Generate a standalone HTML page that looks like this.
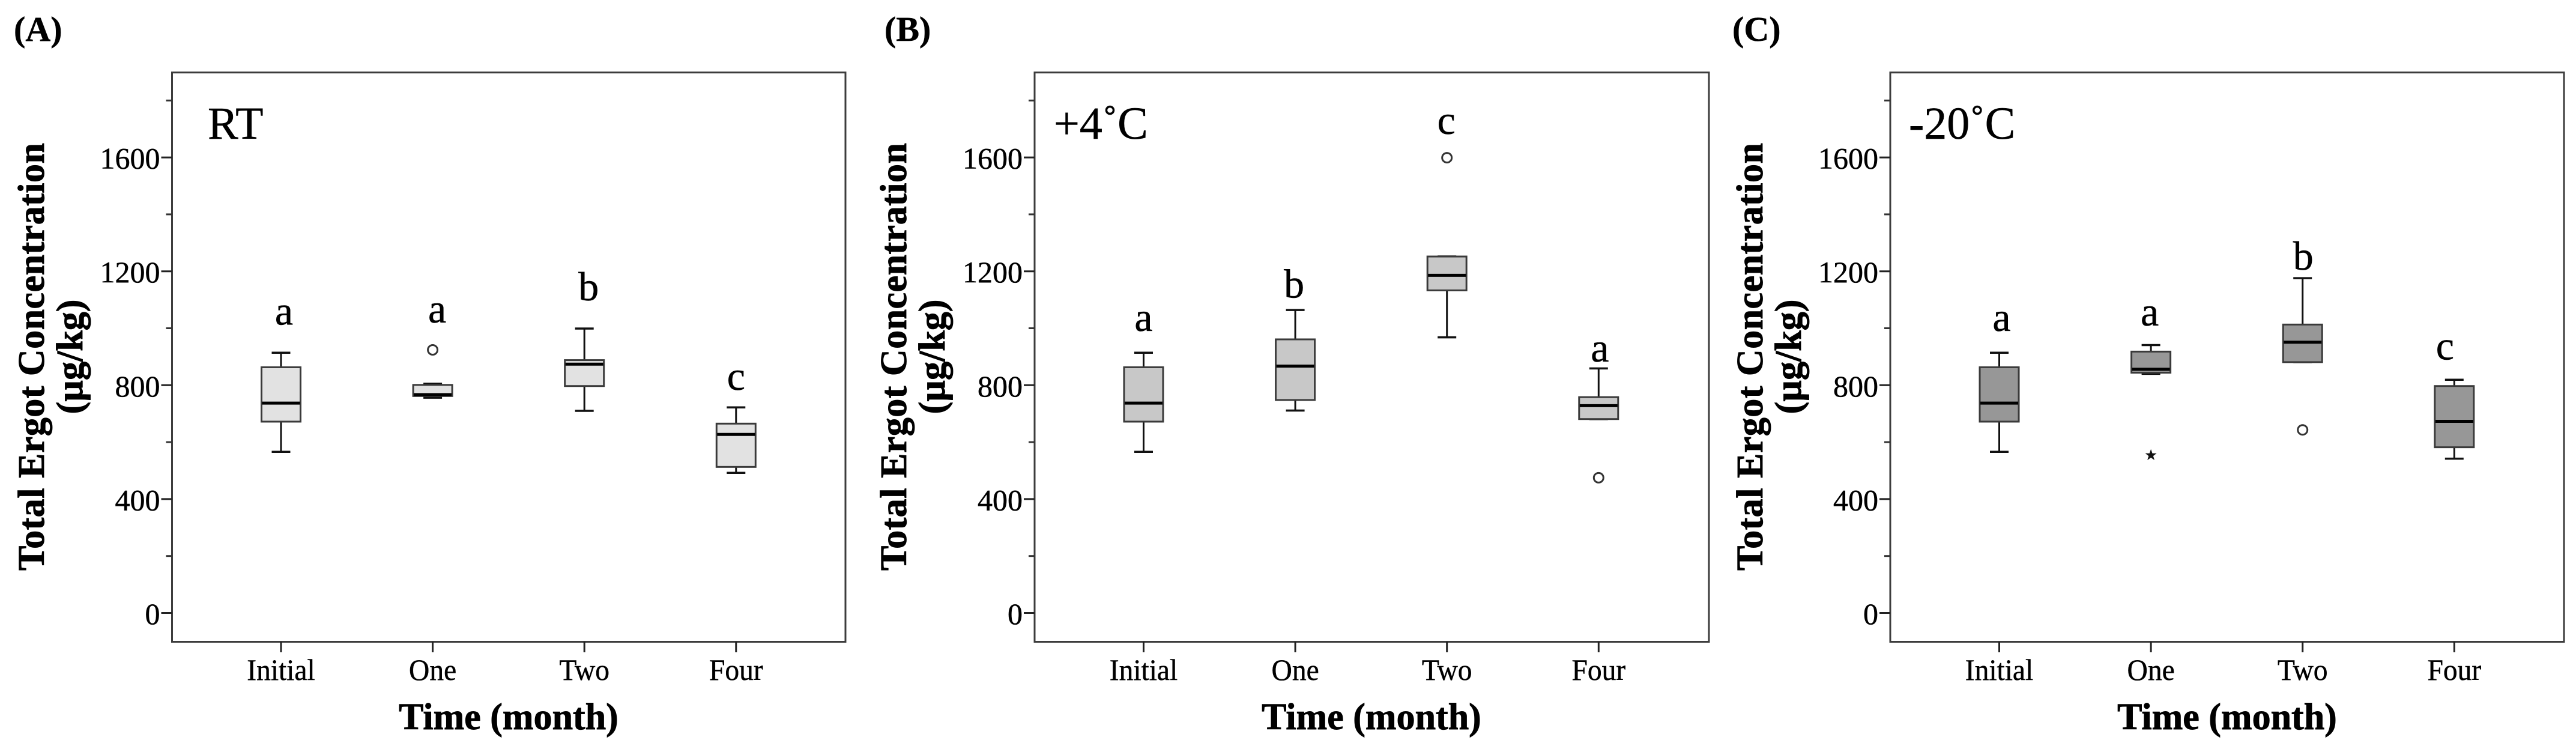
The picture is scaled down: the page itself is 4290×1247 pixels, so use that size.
<!DOCTYPE html>
<html lang="en">
<head>
<meta charset="utf-8">
<title>Total Ergot Concentration over Time</title>
<style>
  html, body { margin: 0; padding: 0; background: #fff; }
  svg { display: block; }
  text { font-family: "Liberation Serif", "Noto Serif CJK SC", serif; fill: #000; stroke: #000; stroke-width: 0.5; }
  .panel-label, .axis-title { font-weight: bold; }
  .panel-label { font-size: 58px; }
  .axis-title { font-size: 62px; text-anchor: middle; stroke-width: 0.9; }
  .condition { font-size: 76px; }
  .frame { fill: none; stroke: #3c3c3c; stroke-width: 3; }
</style>
</head>
<body>
<svg id="chart" xmlns="http://www.w3.org/2000/svg" width="4290" height="1247" viewBox="0 0 4290 1247">
  <rect x="0" y="0" width="4290" height="1247" fill="#fff"/>

  <g id="panel-rt">
    <text class="panel-label" x="23" y="68">(A)</text>
    <rect class="frame" x="286.5" y="120.7" width="1121.5" height="947.8"/>
    <text class="condition" x="346" y="231">RT</text>
    <text class="axis-title" textLength="712" lengthAdjust="spacing" transform="translate(73,594) rotate(-90)">Total Ergot Concentration</text>
    <text class="axis-title" transform="translate(137,594) rotate(-90)">(µg/kg)</text>
    <text class="axis-title" x="847" y="1214">Time (month)</text>
  </g>

  <g id="panel-plus4">
    <text class="panel-label" x="1473" y="68">(B)</text>
    <rect class="frame" x="1723" y="120.7" width="1123" height="947.8"/>
    <text class="condition" x="1755" y="231">+4˚C</text>
    <text class="axis-title" textLength="712" lengthAdjust="spacing" transform="translate(1509,594) rotate(-90)">Total Ergot Concentration</text>
    <text class="axis-title" transform="translate(1573,594) rotate(-90)">(µg/kg)</text>
    <text class="axis-title" x="2284" y="1214">Time (month)</text>
  </g>

  <g id="panel-minus20">
    <text class="panel-label" x="2885" y="68">(C)</text>
    <rect class="frame" x="3148" y="120.7" width="1122" height="947.8"/>
    <text class="condition" x="3179" y="231">-20˚C</text>
    <text class="axis-title" textLength="712" lengthAdjust="spacing" transform="translate(2935,594) rotate(-90)">Total Ergot Concentration</text>
    <text class="axis-title" transform="translate(2999,594) rotate(-90)">(µg/kg)</text>
    <text class="axis-title" x="3709" y="1214">Time (month)</text>
  </g>
</svg>

<script>
const categories = ['Initial', 'One', 'Two', 'Four'];
const majorTicks = [0, 400, 800, 1200, 1600];
const minorTicks = [200, 600, 1000, 1400, 1800];

const rtHigh = [914, 805, 999, 722];
const rtQ3 = [863, 801, 888, 665];
const rtMedian = [737, 767, 874, 627];
const rtQ1 = [672, 762, 797, 513];
const rtLow = [566, 756, 710, 492];
const rtOutliers = [null, 924, null, null];
const rtStars = [null, null, null, null];
const rtLetters = ['a', 'a', 'b', 'c'];
const rtLetterLevels = [1013, 1020, 1098, 784];

const plus4High = [914, 1064, 1252, 859];
const plus4Q3 = [863, 961, 1252, 758];
const plus4Median = [737, 867, 1186, 728];
const plus4Q1 = [672, 748, 1133, 681];
const plus4Low = [566, 711, 968, 681];
const plus4Outliers = [null, null, 1599, 475];
const plus4Stars = [null, null, null, null];
const plus4Letters = ['a', 'b', 'c', 'a'];
const plus4LetterLevels = [990, 1108, 1683, 883];

const minus20High = [914, 941, 1176, 819];
const minus20Q3 = [863, 918, 1013, 797];
const minus20Median = [737, 856, 951, 673];
const minus20Q1 = [672, 844, 881, 582];
const minus20Low = [566, 840, 881, 542];
const minus20Outliers = [null, null, 643, null];
const minus20Stars = [null, 554, null, null];
const minus20Letters = ['a', 'a', 'b', 'c'];
const minus20LetterLevels = [990, 1010, 1206, 890];

const SVG_NS = 'http://www.w3.org/2000/svg';
const yZero = 1020.5;
const yPerUnit = 0.474;
const firstCategoryOffset = 181.5;
const categoryStep = 252.6;
const boxWidth = 65;
const capWidth = 31;

function yScale(value) {
  return yZero - value * yPerUnit;
}

function xScale(index, left) {
  return left + firstCategoryOffset + index * categoryStep;
}

function makeEl(tag, parent) {
  const el = document.createElementNS(SVG_NS, tag);
  parent.appendChild(el);
  return el;
}

function drawLine(parent, x1, y1, x2, y2, stroke, width) {
  const line = makeEl('line', parent);
  line.setAttribute('x1', x1);
  line.setAttribute('y1', y1);
  line.setAttribute('x2', x2);
  line.setAttribute('y2', y2);
  line.setAttribute('stroke', stroke);
  line.setAttribute('stroke-width', width);
  return line;
}

function drawPanel(cfg) {
  const group = document.getElementById(cfg.id);

  majorTicks.forEach(function (value) {
    const tick = drawLine(group, cfg.left - 18, yScale(value), cfg.left, yScale(value), '#222', 3);
    
    
    const label = makeEl('text', group);
    
    
    label.setAttribute('x', cfg.left - 20);
    label.setAttribute('y', yScale(value) + 18.5);
    label.setAttribute('text-anchor', 'end');
    label.setAttribute('font-size', '50');
    label.textContent = String(value);
  });

  minorTicks.forEach(function (value) {
    const tick = drawLine(group, cfg.left - 10, yScale(value), cfg.left, yScale(value), '#333', 3);
    
    
  });

  categories.forEach(function (name, i) {
    const cx = xScale(i, cfg.left);

    const tick = drawLine(group, cx, 1068.5, cx, 1086, '#222', 3);
    
    

    const label = makeEl('text', group);
    
    
    label.setAttribute('transform', 'translate(' + cx + ',1132) scale(0.95,1)');
    label.setAttribute('text-anchor', 'middle');
    label.setAttribute('font-size', '50');
    label.textContent = name;

    const whisker = drawLine(group, cx, yScale(cfg.high[i]), cx, yScale(cfg.low[i]), '#111', 3);
    
    

    const capTop = drawLine(group, cx - capWidth / 2, yScale(cfg.high[i]), cx + capWidth / 2, yScale(cfg.high[i]), '#111', 3.5);
    
    

    const capLow = drawLine(group, cx - capWidth / 2, yScale(cfg.low[i]), cx + capWidth / 2, yScale(cfg.low[i]), '#111', 3.5);
    
    

    const box = makeEl('rect', group);
    
    
    box.setAttribute('x', cx - boxWidth / 2);
    box.setAttribute('y', yScale(cfg.q3[i]));
    box.setAttribute('width', boxWidth);
    box.setAttribute('height', yScale(cfg.q1[i]) - yScale(cfg.q3[i]));
    box.setAttribute('fill', cfg.fill);
    box.setAttribute('stroke', '#3a3a3a');
    box.setAttribute('stroke-width', '3');

    const median = drawLine(group, cx - boxWidth / 2 + 1, yScale(cfg.median[i]), cx + boxWidth / 2 - 1, yScale(cfg.median[i]), '#000', 5);
    
    

    if (cfg.outliers[i] !== null) {
      const dot = makeEl('circle', group);
      
      
      dot.setAttribute('cx', cx);
      dot.setAttribute('cy', yScale(cfg.outliers[i]));
      dot.setAttribute('r', '8');
      dot.setAttribute('fill', '#fff');
      dot.setAttribute('stroke', '#333');
      dot.setAttribute('stroke-width', '3');
    }

    if (cfg.stars[i] !== null) {
      const star = makeEl('polygon', group);
      
      
      const pts = [];
      for (let k = 0; k < 10; k++) {
        const r = k % 2 === 0 ? 10 : 4;
        const a = -Math.PI / 2 + k * Math.PI / 5;
        pts.push((cx + r * Math.cos(a)).toFixed(1) + ',' + (yScale(cfg.stars[i]) + r * Math.sin(a)).toFixed(1));
      }
      star.setAttribute('points', pts.join(' '));
      star.setAttribute('fill', '#111');
    }

    const letter = makeEl('text', group);
    
    
    letter.setAttribute('x', cx + cfg.letterShift[i]);
    letter.setAttribute('y', yScale(cfg.letterLevels[i]));
    letter.setAttribute('text-anchor', 'middle');
    letter.setAttribute('font-size', '68');
    letter.textContent = cfg.letters[i];
  });
}

drawPanel({ id: 'panel-rt', key: 'panel-a', left: 286.5, fill: '#e2e2e2', letterShift: [5, 7.5, 7, 0],
  high: rtHigh, q3: rtQ3, median: rtMedian, q1: rtQ1, low: rtLow,
  outliers: rtOutliers, stars: rtStars, letters: rtLetters, letterLevels: rtLetterLevels });
drawPanel({ id: 'panel-plus4', key: 'panel-b', left: 1723, fill: '#c8c8c8', letterShift: [0, -2, -1, 2],
  high: plus4High, q3: plus4Q3, median: plus4Median, q1: plus4Q1, low: plus4Low,
  outliers: plus4Outliers, stars: plus4Stars, letters: plus4Letters, letterLevels: plus4LetterLevels });
drawPanel({ id: 'panel-minus20', key: 'panel-c', left: 3148, fill: '#979797', letterShift: [4, -2, 1, -15.5],
  high: minus20High, q3: minus20Q3, median: minus20Median, q1: minus20Q1, low: minus20Low,
  outliers: minus20Outliers, stars: minus20Stars, letters: minus20Letters, letterLevels: minus20LetterLevels });
</script>
</body>
</html>
